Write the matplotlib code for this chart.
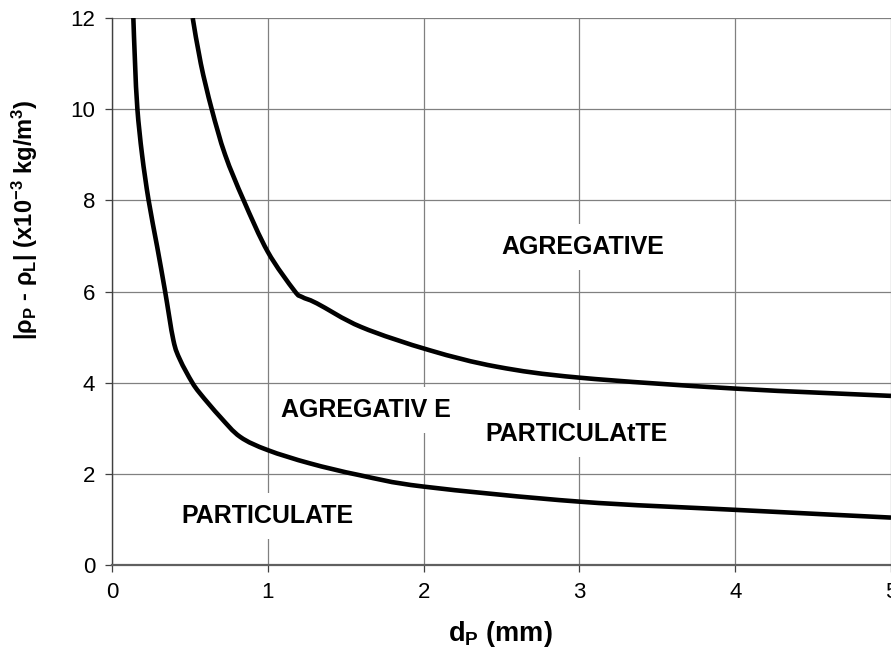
import matplotlib
matplotlib.use("Agg")
import matplotlib.pyplot as plt
from matplotlib.path import Path
from matplotlib.patches import PathPatch

plt.rcParams['font.family'] = ['Liberation Sans', 'DejaVu Sans']
plt.rcParams['mathtext.fontset'] = 'custom'
plt.rcParams['mathtext.rm'] = 'Liberation Sans:bold'
plt.rcParams['mathtext.default'] = 'rm'

# Boundary curves
lower_x = [0.137, 0.148, 0.163, 0.193, 0.235, 0.29, 0.34, 0.394, 0.437, 0.512, 0.566,
           0.694, 0.823, 1.0, 1.27, 1.59, 2.0, 3.0, 4.0, 5.0]
lower_y = [12.0, 11.0, 10.0, 9.0, 8.0, 6.98, 6.02, 4.93, 4.50, 4.02, 3.76,
           3.25, 2.81, 2.52, 2.23, 1.97, 1.72, 1.39, 1.21, 1.04]

upper_x = [0.518, 0.57, 0.64, 0.726, 0.845, 1.0, 1.17, 1.22, 1.315, 1.6,
           2.04, 2.47, 3.0, 4.0, 5.0]
upper_y = [12.0, 11.0, 10.0, 9.0, 8.0, 6.87, 6.02, 5.88, 5.74, 5.22,
           4.71, 4.35, 4.11, 3.87, 3.71]

region_labels = ["AGREGATIVE", "AGREGATIV E", "PARTICULAtTE", "PARTICULATE"]
region_x = [3.02, 1.63, 2.98, 1.0]
region_y = [6.98, 3.40, 2.88, 1.08]

x_ticks = [0, 1, 2, 3, 4, 5]
y_ticks = [0, 2, 4, 6, 8, 10, 12]


def smooth_path(xs, ys, k=1.0 / 6.0):
    """Smoothed line (like a spreadsheet 'smoothed line') as a Bezier path."""
    pts = list(zip(xs, ys))
    n = len(pts)
    verts = [pts[0]]
    codes = [Path.MOVETO]
    for i in range(n - 1):
        p0 = pts[i - 1] if i > 0 else pts[i]
        p1 = pts[i]
        p2 = pts[i + 1]
        p3 = pts[i + 2] if i + 2 < n else pts[i + 1]
        c1 = (p1[0] + (p2[0] - p0[0]) * k, p1[1] + (p2[1] - p0[1]) * k)
        c2 = (p2[0] - (p3[0] - p1[0]) * k, p2[1] - (p3[1] - p1[1]) * k)
        verts += [c1, c2, p2]
        codes += [Path.CURVE4] * 3
    return Path(verts, codes)


fig = plt.figure(figsize=(8.91, 6.54), dpi=100)
ax = fig.add_axes([112/891, 1-565/654, 1-112/891, (565-18)/654])

for xs, ys in [(lower_x, lower_y), (upper_x, upper_y)]:
    ax.add_patch(PathPatch(smooth_path(xs, ys), fill=False, ec='black', lw=3.3,
                           joinstyle='round', capstyle='butt', zorder=3))

ax.set_xlim(0, 5)
ax.set_ylim(0, 12)
ax.set_xticks(x_ticks)
ax.set_yticks(y_ticks)
ax.grid(True, color='#808080', lw=0.9, zorder=0)
ax.set_axisbelow(True)
for s in ['top', 'right']:
    ax.spines[s].set_visible(False)
ax.spines['left'].set_color('#404040')
ax.spines['left'].set_linewidth(1.0)
ax.spines['bottom'].set_color('#606060')
ax.spines['bottom'].set_linewidth(1.6)
ax.tick_params(axis='both', direction='out', length=5, width=0.9, color='#404040',
               labelsize=16, pad=7)

for t, xx, yy in zip(region_labels, region_x, region_y):
    ax.text(xx, yy, t, ha='center', va='center', fontsize=18, fontweight='bold',
            zorder=4, bbox=dict(boxstyle='square,pad=0.45', fc='white', ec='none'))

fig.text(500/891, 1-634/654, r'd$_{P}$ (mm)', ha='center', va='center',
         fontsize=19.5, fontweight='bold')
fig.text(25/891, 1-220/654, r'|ρ$_{P}$ - ρ$_{L}$| (x10$^{-3}$ kg/m$^{3}$)',
         ha='center', va='center', rotation=90, fontsize=17, fontweight='bold')

fig.savefig('out.png', dpi=100)
